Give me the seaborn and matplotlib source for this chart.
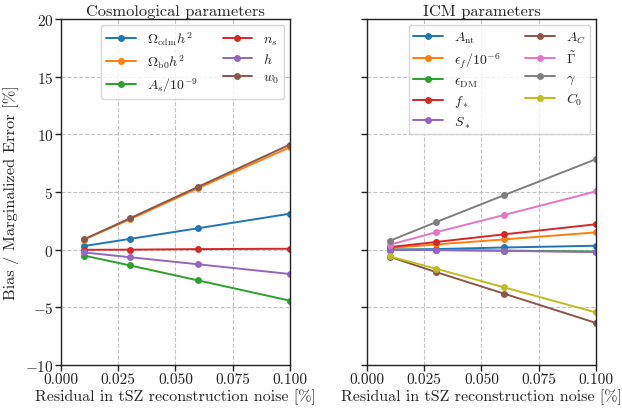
import numpy as np
import pandas as pd
import matplotlib
matplotlib.use("Agg")
import matplotlib.pyplot as plt
import seaborn as sns

x_vals = [0.01, 0.03, 0.06, 0.10]

# Cosmological parameters
cosmo_labels = [r'$\Omega_{\rm cdm}h^2$', r'$\Omega_{\rm b0}h^2$', r'$A_s/10^{-9}$',
                r'$n_s$', r'$h$', r'$w_0$']
omega_cdm = [0.32, 0.94, 1.87, 3.13]
omega_b = [0.88, 2.63, 5.35, 8.89]
a_s = [-0.50, -1.35, -2.66, -4.41]
n_s = [0.00, 0.01, 0.06, 0.09]
h_vals = [-0.23, -0.64, -1.26, -2.10]
w0 = [0.90, 2.72, 5.47, 9.12]
cosmo_series = [omega_cdm, omega_b, a_s, n_s, h_vals, w0]

# ICM parameters
icm_labels = [r'$A_{\rm nt}$', r'$\epsilon_f/10^{-6}$', r'$\epsilon_{\rm DM}$', r'$f_*$',
              r'$S_*$', r'$A_C$', r'$\tilde{\Gamma}$', r'$\gamma$', r'$C_0$']
a_nt = [0.02, 0.06, 0.20, 0.35]
eps_f = [0.15, 0.46, 0.90, 1.51]
eps_dm = [0.00, -0.03, -0.07, -0.15]
f_star = [0.23, 0.67, 1.34, 2.21]
s_star = [0.00, -0.02, -0.09, -0.20]
a_c = [-0.61, -1.92, -3.81, -6.34]
gamma_t = [0.44, 1.51, 3.02, 5.06]
gamma_v = [0.78, 2.38, 4.74, 7.85]
c0 = [-0.58, -1.63, -3.26, -5.43]
icm_series = [a_nt, eps_f, eps_dm, f_star, s_star, a_c, gamma_t, gamma_v, c0]

sns.set_theme(style="ticks")
plt.rcParams.update({
    'font.family': ['cmr10', 'DejaVu Serif'],
    'mathtext.fontset': 'cm',
    'axes.formatter.use_mathtext': True,
    'axes.unicode_minus': True,
    'font.size': 11,
    'axes.edgecolor': '#222222',
    'xtick.color': '#222222',
    'ytick.color': '#222222',
    'axes.linewidth': 1.0,
})

def long_df(labels, series):
    rows = []
    for lab, vals in zip(labels, series):
        for xv, yv in zip(x_vals, vals):
            rows.append({'x': xv, 'y': yv, 'param': lab})
    return pd.DataFrame(rows)

fig, axes = plt.subplots(1, 2, figsize=(6.22, 4.10), dpi=100, sharey=True)
fig.subplots_adjust(left=0.098, right=0.958, top=0.951, bottom=0.107, wspace=0.336)

pal = sns.color_palette("tab10")
for ax, labels, series, title in [(axes[0], cosmo_labels, cosmo_series, 'Cosmological parameters'),
                                  (axes[1], icm_labels, icm_series, 'ICM parameters')]:
    df = long_df(labels, series)
    sns.lineplot(data=df, x='x', y='y', hue='param', hue_order=labels,
                 palette=pal[:len(labels)], marker='o', markersize=5,
                 markeredgewidth=0, linewidth=1.4, ax=ax)
    ax.set_xlim(0, 0.1)
    ax.set_ylim(-10, 20)
    ax.set_xticks([0.0, 0.025, 0.05, 0.075, 0.1])
    ax.set_xticklabels(['0.000', '0.025', '0.050', '0.075', '0.100'])
    ax.set_yticks([-10, -5, 0, 5, 10, 15, 20])
    ax.grid(True, linestyle='--', color='#c4c4c4', linewidth=0.8)
    ax.set_axisbelow(True)
    ax.set_title(title, fontsize=11.8, pad=3)
    ax.set_xlabel('Residual in tSZ reconstruction noise [%]', fontsize=11.5, labelpad=1)
    ax.tick_params(labelsize=11, length=4, width=1, pad=1.5)
    for s in ax.spines.values():
        s.set_visible(True)
    ax.legend(ncol=2, loc='upper right', fontsize=10, frameon=True,
              handlelength=2.1, handletextpad=0.8, columnspacing=1.8,
              labelspacing=0.35, borderaxespad=0.4, borderpad=0.35, title=None)

axes[0].set_ylabel('Bias / Marginalized Error [%]', fontsize=11.8, labelpad=4)
axes[1].set_ylabel('')
axes[1].tick_params(labelleft=False)

fig.savefig('out.png', dpi=100)
